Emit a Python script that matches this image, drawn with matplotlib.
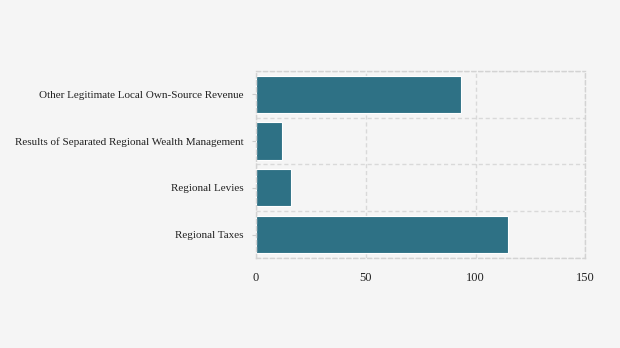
import matplotlib
matplotlib.use("Agg")
import matplotlib.pyplot as plt
from matplotlib.ticker import MultipleLocator

categories = ["Regional Taxes", "Regional Levies",
              "Results of Separated Regional Wealth Management",
              "Other Legitimate Local Own-Source Revenue"]
values = [115, 16, 12, 93.5]
x_ticks = [0, 50, 100, 150]

plt.rcParams["font.family"] = ["Liberation Serif", "DejaVu Serif"]

fig = plt.figure(figsize=(6.2, 3.48), dpi=100, facecolor="#f5f5f5")
ax = fig.add_axes([0.413, 0.259, 0.531, 0.537], facecolor="#f5f5f5")

ax.barh(categories, values, height=0.8, color="#2e7185", edgecolor="white",
        linewidth=0.8, zorder=2)

ax.set_xlim(0, 150)
ax.set_ylim(-0.5, 3.5)
ax.set_xticks(x_ticks)

dash = (0, (3, 2))
grid_color = "#d3d3d3"

# gridlines sit between the bars, so they go on minor ticks
ax.yaxis.set_minor_locator(MultipleLocator(1, offset=0.5))
ax.grid(True, which="major", axis="x", linestyle=dash, color=grid_color,
        linewidth=1.0, alpha=0.8, zorder=3)
ax.grid(True, which="minor", axis="y", linestyle=dash, color=grid_color,
        linewidth=1.0, alpha=0.8, zorder=3)
for s in ax.spines.values():
    s.set_linestyle(dash)
    s.set_color(grid_color)
    s.set_linewidth(1.0)
    s.set_zorder(3)

ax.tick_params(axis="y", which="major", length=3, pad=6, color="#cccccc",
               labelsize=8, labelcolor="#222222")
ax.tick_params(axis="y", which="minor", length=0)
ax.tick_params(axis="x", length=0, pad=10, labelsize=9, labelcolor="#222222")

fig.savefig("out.png", dpi=100, facecolor=fig.get_facecolor())
